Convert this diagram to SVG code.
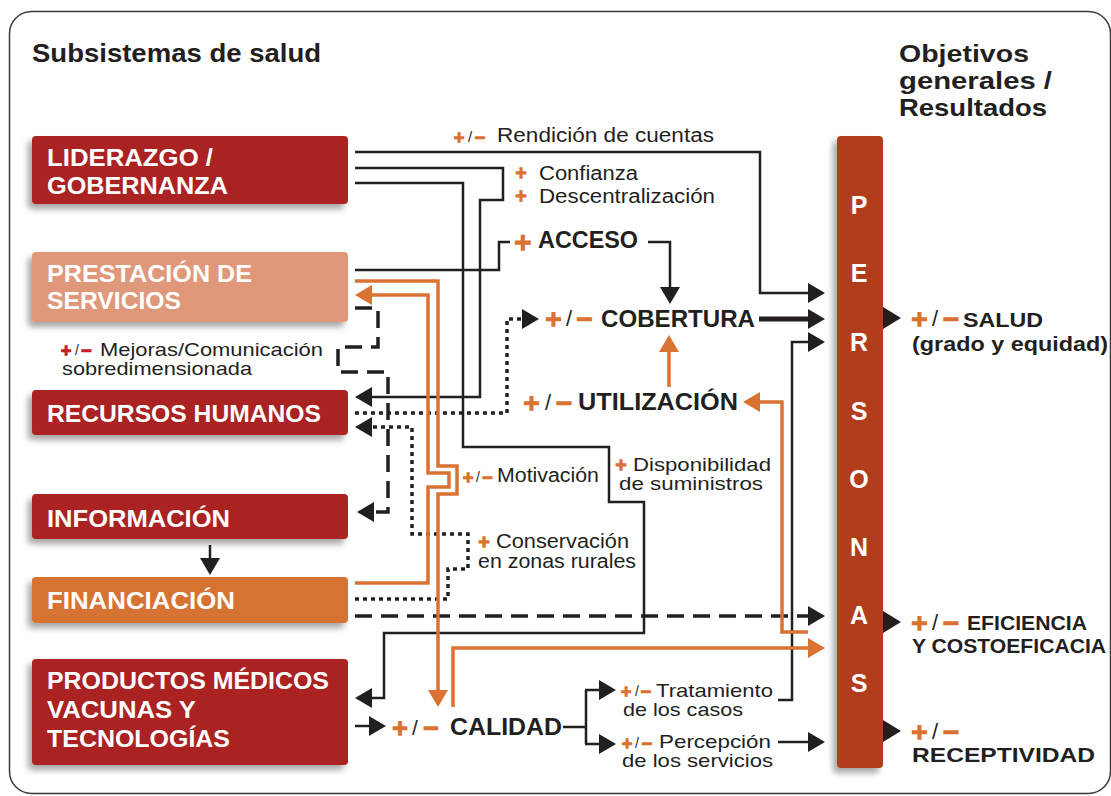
<svg xmlns="http://www.w3.org/2000/svg" width="1111" height="796" viewBox="0 0 1111 796">
<defs>
<style>
.bx{filter:url(#sh)}
.dr{fill:#AA2421}
.bt{font-family:"Liberation Sans",Arial,sans-serif;font-weight:bold;font-size:24px;fill:#fff}
.hd{font-family:"Liberation Sans",Arial,sans-serif;font-weight:bold;font-size:26px;fill:#231F20}
.hs{font-size:24px}
.lb{font-family:"Liberation Sans",Arial,sans-serif;font-size:20px;fill:#231F20}
.ls{font-family:"Liberation Sans",Arial,sans-serif;font-size:19px;fill:#231F20}
.bl{font-family:"Liberation Sans",Arial,sans-serif;font-weight:bold;font-size:23px;fill:#231F20}
.ob{font-family:"Liberation Sans",Arial,sans-serif;font-weight:bold;font-size:21px;fill:#231F20}
.pl{font-family:"Liberation Sans",Arial,sans-serif;font-weight:bold;font-size:25px;fill:#fff;text-anchor:middle}
.pm{font-family:"DejaVu Sans",sans-serif;font-weight:bold;fill:#DA7232;stroke:#DA7232;stroke-width:1.4;text-anchor:middle}
.pr{fill:#C8202A;stroke:#C8202A}
.sl{font-family:"Liberation Sans",Arial,sans-serif;fill:#231F20;text-anchor:middle}
.k{fill:none;stroke:#231F20;stroke-width:2.5}
.kt{fill:none;stroke:#231F20;stroke-width:5}
.kd{fill:none;stroke:#231F20;stroke-width:3.5;stroke-dasharray:17 9}
.ko{fill:none;stroke:#231F20;stroke-width:3.5;stroke-dasharray:4 4}
.o{fill:none;stroke:#DA7232;stroke-width:3.5}
.mk{marker-end:url(#ah)}
.mo{marker-end:url(#ao)}
</style>
<filter id="sh" x="-0.3" y="-0.2" width="1.6" height="1.5"><feDropShadow dx="-4" dy="5" stdDeviation="3" flood-color="#000" flood-opacity="0.35"/></filter>
<marker id="ah" viewBox="0 0 17 20" refX="0" refY="10" markerWidth="17" markerHeight="20" markerUnits="userSpaceOnUse" orient="auto"><path d="M0,0 L17,10 L0,20 Z" fill="#231F20"/></marker>
<marker id="ao" viewBox="0 0 17 20" refX="0" refY="10" markerWidth="17" markerHeight="20" markerUnits="userSpaceOnUse" orient="auto"><path d="M0,0 L17,10 L0,20 Z" fill="#DA7232"/></marker>
</defs>
<rect width="1111" height="796" fill="#fff"/>
<rect x="9.5" y="11.5" width="1101" height="782" rx="22" fill="none" stroke="#3a3a3a" stroke-width="1.5"/>

<g id="headers">
<text class="hd" x="32" y="62" textLength="289" lengthAdjust="spacingAndGlyphs">Subsistemas de salud</text>
<text class="hd hs" x="899" y="62" textLength="130" lengthAdjust="spacingAndGlyphs">Objetivos</text>
<text class="hd hs" x="899" y="89" textLength="153" lengthAdjust="spacingAndGlyphs">generales /</text>
<text class="hd hs" x="899" y="116" textLength="148" lengthAdjust="spacingAndGlyphs">Resultados</text>
</g>

<g id="connectors">
<path class="k mk" d="M355,152 H760 V293 H808"/>
<path class="k mk" d="M355,168 H503 V200 H480 V397 H372"/>
<path class="k mk" d="M355,183 H463 V447 H609 V502 H644 V633 H384 V698 H372"/>
<path class="k" d="M355,270 H499 V242 H510"/>
<path class="k mk" d="M648,242 H670 V287"/>
<path class="kt mk" d="M759,319 H808"/>
<path class="k mk" d="M778,700 H792 V342 H808"/>
<path class="k mk" d="M355,726 H369"/>
<path class="k" d="M563,727 H586 M586,690 V744"/>
<path class="k mk" d="M585,690 H599"/>
<path class="k mk" d="M585,744 H599"/>
<path class="k mk" d="M778,742 H808"/>
<path class="k mk" d="M210,545 V558"/>
<path class="kd mk" d="M355,308 H378 V347 H338 V372 H388 V512 H374"/>
<path class="kd mk" d="M355,616 H808"/>
<path class="ko mk" d="M355,413 H507 V319 H522"/>
<path class="ko mk" d="M355,599 H448 V569 H468 V534 H412 V427 H372"/>
<path class="o mo" d="M355,281 H438 V466 H457 V494 H438 V690"/>
<path class="o mo" d="M355,583 H428 V487 H449 V473 H428 V295 H372"/>
<path class="o mo" d="M453,707 V648 H808"/>
<path class="o mo" d="M808,632 H782 V402 H760"/>
<path class="o mo" d="M669,387 V352"/>
<polygon points="883,307 901,318 883,329" fill="#231F20"/>
<polygon points="883,611 901,622 883,633" fill="#231F20"/>
<polygon points="883,720 901,731 883,742" fill="#231F20"/>
</g>

<g id="liderazgo">
<rect class="bx dr" x="32" y="136" width="316" height="68" rx="4"/>
<text class="bt" x="47" y="166" textLength="166" lengthAdjust="spacingAndGlyphs">LIDERAZGO /</text>
<text class="bt" x="47" y="194" textLength="181" lengthAdjust="spacingAndGlyphs">GOBERNANZA</text>
</g>
<g id="prestacion">
<rect class="bx" x="32" y="252" width="316" height="70" rx="4" fill="#E0987A"/>
<text class="bt" x="47" y="282" textLength="205" lengthAdjust="spacingAndGlyphs">PRESTACIÓN DE</text>
<text class="bt" x="47" y="309" textLength="134" lengthAdjust="spacingAndGlyphs">SERVICIOS</text>
</g>
<g id="recursos">
<rect class="bx dr" x="32" y="390" width="316" height="45" rx="4"/>
<text class="bt" x="47" y="422" textLength="274" lengthAdjust="spacingAndGlyphs">RECURSOS HUMANOS</text>
</g>
<g id="informacion">
<rect class="bx dr" x="32" y="494" width="316" height="45" rx="4"/>
<text class="bt" x="47" y="527" textLength="183" lengthAdjust="spacingAndGlyphs">INFORMACIÓN</text>
</g>
<g id="financiacion">
<rect class="bx" x="32" y="577" width="316" height="46" rx="4" fill="#D77330"/>
<text class="bt" x="47" y="609" textLength="188" lengthAdjust="spacingAndGlyphs">FINANCIACIÓN</text>
</g>
<g id="productos">
<rect class="bx dr" x="32" y="659" width="316" height="106" rx="4"/>
<text class="bt" x="47" y="689" textLength="282" lengthAdjust="spacingAndGlyphs">PRODUCTOS MÉDICOS</text>
<text class="bt" x="47" y="718" textLength="149" lengthAdjust="spacingAndGlyphs">VACUNAS Y</text>
<text class="bt" x="47" y="747" textLength="183" lengthAdjust="spacingAndGlyphs">TECNOLOGÍAS</text>
</g>

<g id="personas">
<rect class="bx" x="837" y="136" width="46" height="632" rx="4" fill="#B23D1F"/>
<text class="pl" x="859" y="214">P</text>
<text class="pl" x="859" y="282">E</text>
<text class="pl" x="859" y="351">R</text>
<text class="pl" x="859" y="420">S</text>
<text class="pl" x="859" y="488">O</text>
<text class="pl" x="859" y="556">N</text>
<text class="pl" x="859" y="624">A</text>
<text class="pl" x="859" y="692">S</text>
</g>

<g id="rendicion">
<text class="pm" x="459" y="142" font-size="14">+</text><text class="sl" x="470" y="142" font-size="15">/</text><text class="pm" x="480" y="142" font-size="14">−</text>
<text class="lb" x="497" y="142" textLength="217" lengthAdjust="spacingAndGlyphs">Rendición de cuentas</text>
</g>
<g id="confianza">
<text class="pm" x="521" y="178" font-size="15">+</text>
<text class="lb" x="539" y="180" textLength="99" lengthAdjust="spacingAndGlyphs">Confianza</text>
<text class="pm" x="521" y="201" font-size="15">+</text>
<text class="lb" x="539" y="203" textLength="176" lengthAdjust="spacingAndGlyphs">Descentralización</text>
</g>
<g id="acceso">
<text class="pm" x="523" y="250" font-size="23">+</text>
<text class="bl" x="538" y="248" textLength="100" lengthAdjust="spacingAndGlyphs">ACCESO</text>
</g>
<g id="cobertura">
<text class="pm" x="553.5" y="326" font-size="22">+</text><text class="sl" x="569" y="326" font-size="22">/</text><text class="pm" x="584.5" y="326" font-size="22">−</text>
<text class="bl" x="601" y="327" textLength="154" lengthAdjust="spacingAndGlyphs">COBERTURA</text>
</g>
<g id="utilizacion">
<text class="pm" x="531.5" y="410" font-size="22">+</text><text class="sl" x="548" y="410" font-size="22">/</text><text class="pm" x="564" y="410" font-size="22">−</text>
<text class="bl" x="578" y="410" textLength="160" lengthAdjust="spacingAndGlyphs">UTILIZACIÓN</text>
</g>
<g id="mejoras">
<text class="pm pr" x="66" y="355" font-size="14">+</text><text class="sl" x="77" y="355" font-size="14">/</text><text class="pm pr" x="86.5" y="355" font-size="14">−</text>
<text class="ls" x="100" y="356" textLength="223" lengthAdjust="spacingAndGlyphs">Mejoras/Comunicación</text>
<text class="ls" x="62" y="375" textLength="190" lengthAdjust="spacingAndGlyphs">sobredimensionada</text>
</g>
<g id="motivacion">
<text class="pm" x="468" y="482" font-size="14">+</text><text class="sl" x="478" y="482" font-size="14">/</text><text class="pm" x="487.5" y="482" font-size="14">−</text>
<text class="lb" x="497" y="482" textLength="102" lengthAdjust="spacingAndGlyphs">Motivación</text>
</g>
<g id="disponibilidad">
<text class="pm" x="621" y="470" font-size="15">+</text>
<text class="ls" x="633" y="471" textLength="138" lengthAdjust="spacingAndGlyphs">Disponibilidad</text>
<text class="ls" x="619" y="490" textLength="144" lengthAdjust="spacingAndGlyphs">de suministros</text>
</g>
<g id="conservacion">
<text class="pm" x="484" y="547" font-size="15">+</text>
<text class="lb" x="496" y="548" textLength="133" lengthAdjust="spacingAndGlyphs">Conservación</text>
<text class="lb" x="478" y="568" textLength="158" lengthAdjust="spacingAndGlyphs">en zonas rurales</text>
</g>
<g id="calidad">
<text class="pm" x="400" y="735" font-size="21">+</text><text class="sl" x="415" y="735" font-size="21">/</text><text class="pm" x="431" y="735" font-size="21">−</text>
<text class="bl" x="450" y="735" textLength="112" lengthAdjust="spacingAndGlyphs">CALIDAD</text>
</g>
<g id="tratamiento">
<text class="pm" x="626" y="696" font-size="14">+</text><text class="sl" x="637" y="696" font-size="14">/</text><text class="pm" x="646" y="696" font-size="14">−</text>
<text class="ls" x="656" y="697" textLength="117" lengthAdjust="spacingAndGlyphs">Tratamiento</text>
<text class="ls" x="623" y="716" textLength="120" lengthAdjust="spacingAndGlyphs">de los casos</text>
</g>
<g id="percepcion">
<text class="pm" x="627" y="748" font-size="14">+</text><text class="sl" x="637" y="748" font-size="14">/</text><text class="pm" x="647" y="748" font-size="14">−</text>
<text class="ls" x="659" y="748" textLength="112" lengthAdjust="spacingAndGlyphs">Percepción</text>
<text class="ls" x="622" y="767" textLength="151" lengthAdjust="spacingAndGlyphs">de los servicios</text>
</g>
<g id="salud">
<text class="pm" x="919.5" y="326" font-size="22">+</text><text class="sl" x="935" y="326" font-size="22">/</text><text class="pm" x="951" y="326" font-size="22">−</text>
<text class="ob" x="963" y="327" textLength="80" lengthAdjust="spacingAndGlyphs">SALUD</text>
<text class="ob" x="912" y="351" textLength="196" lengthAdjust="spacingAndGlyphs">(grado y equidad)</text>
</g>
<g id="eficiencia">
<text class="pm" x="919.5" y="630" font-size="22">+</text><text class="sl" x="935" y="630" font-size="22">/</text><text class="pm" x="951" y="630" font-size="22">−</text>
<text class="ob" x="967" y="630" textLength="120" lengthAdjust="spacingAndGlyphs">EFICIENCIA</text>
<text class="ob" x="912" y="653" textLength="194" lengthAdjust="spacingAndGlyphs">Y COSTOEFICACIA</text>
</g>
<g id="receptividad">
<text class="pm" x="919.5" y="739" font-size="22">+</text><text class="sl" x="935" y="739" font-size="22">/</text><text class="pm" x="951" y="739" font-size="22">−</text>
<text class="ob" x="912" y="762" textLength="183" lengthAdjust="spacingAndGlyphs">RECEPTIVIDAD</text>
</g>
</svg>
